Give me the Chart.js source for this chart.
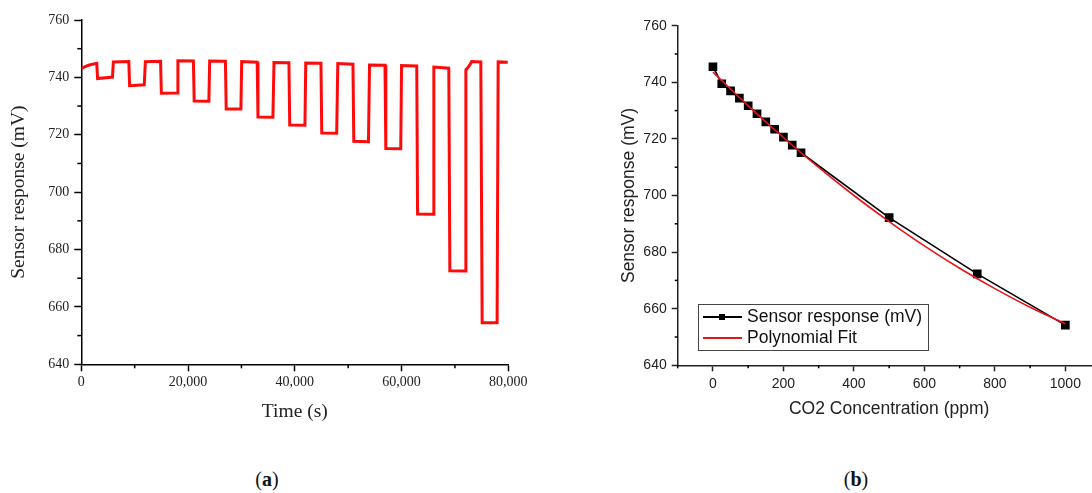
<!DOCTYPE html>
<html>
<head>
<meta charset="utf-8">
<script src="https://cdn.jsdelivr.net/npm/chart.js@4.4.1/dist/chart.umd.min.js"></script>
<style>
  html, body { margin: 0; padding: 0; background: #fff; width: 1092px; height: 493px; overflow: hidden; }
  #wrap { position: relative; width: 1092px; height: 493px; }
  canvas { position: absolute; top: 0; }
  .cap { position: absolute; top: 468px; width: 60px; text-align: center; font: 20px 'Liberation Serif', serif; color: #111; }
  #legend { position: absolute; left: 698px; top: 304px; width: 229px; height: 45px; border: 1px solid #444;
            font: 17.5px 'Liberation Sans', sans-serif; color: #111; }
  .row { position: absolute; left: 0; height: 21px; line-height: 21px; }
  .sample { position: absolute; left: 4px; width: 39px; height: 1.5px; }
  .txt { position: absolute; left: 48px; white-space: nowrap; }
</style>
</head>
<body>
<div id="wrap">
  <canvas id="chartA" width="540" height="440" style="left:0"></canvas>
  <canvas id="chartB" width="600" height="440" style="left:540px"></canvas>
  <div id="legend">
    <div class="row" style="top:1px">
      <div class="sample" style="top:10px;background:#000"></div>
      <div style="position:absolute;left:20px;top:8px;width:6px;height:6px;background:#000"></div>
      <div class="txt">Sensor response (mV)</div>
    </div>
    <div class="row" style="top:22px">
      <div class="sample" style="top:10px;background:#e8141a"></div>
      <div class="txt">Polynomial Fit</div>
    </div>
  </div>
  <div class="cap" style="left:237px">(<b>a</b>)</div>
  <div class="cap" style="left:826px">(<b>b</b>)</div>
</div>
<script>
// (a) sensor response over time, breakpoints
const timeS = [0, 600, 1500, 2900, 3050, 5850, 6000, 8900, 9050, 11800, 12000, 14850, 15000, 17950,
  18100, 21000, 21150, 23900, 24050, 27000, 27150, 29900, 30050, 32950, 33100, 35900, 36100, 38900,
  39050, 41900, 42050, 44900, 45050, 47850, 48050, 50900, 51050, 53800, 54000, 56900, 57050, 59850,
  60000, 62850, 63000, 65900, 66050, 68850, 69050, 71900, 72050, 72600, 73150, 74850, 75100, 77900,
  78100, 79900];
const responseMv = [743.0, 743.7, 744.3, 744.9, 739.6, 740.1, 745.4, 745.5, 737.1, 737.4, 745.5, 745.6, 734.5, 734.6,
  745.8, 745.7, 731.8, 731.7, 745.7, 745.6, 729.0, 729.0, 745.5, 745.3, 726.2, 726.1, 745.2, 745.1,
  723.4, 723.3, 745.0, 744.9, 720.6, 720.5, 744.8, 744.6, 717.7, 717.6, 744.3, 744.2, 715.2, 715.1,
  744.1, 744.0, 692.4, 692.3, 743.6, 743.2, 672.6, 672.5, 742.6, 743.8, 745.5, 745.4, 654.5, 654.5,
  745.4, 745.3];

// (b) calibration points and polynomial fit
const co2Ppm = [0, 25, 50, 75, 100, 125, 150, 175, 200, 225, 250, 500, 750, 1000];
const sensorMv = [745.5, 739.5, 737.0, 734.4, 731.7, 728.9, 726.0, 723.4, 720.6, 717.8, 715.1, 692.2, 672.3, 654.2];
const fitPpm = [0, 100, 200, 300, 400, 500, 600, 700, 800, 900, 1000];
const fitMv = [743.6, 731.7, 720.5, 709.9, 700.0, 690.8, 682.2, 674.3, 667.1, 660.5, 654.7];

const yTicks = { min: 640, max: 760, step: 10, major: 20 };

// short ticks between labelled ones
const minorTicks = {
  id: 'minorTicks',
  afterDraw(chart, args, opts) {
    const ctx = chart.ctx;
    ctx.save();
    ctx.strokeStyle = '#000';
    ctx.lineWidth = 1.5;
    ['x', 'y'].forEach(id => {
      const s = chart.scales[id];
      s.ticks.forEach(t => {
        if (t.value % opts[id] === 0) return;
        const p = s.getPixelForValue(t.value);
        ctx.beginPath();
        if (id === 'x') { ctx.moveTo(p, s.top); ctx.lineTo(p, s.top + opts.len); }
        else { ctx.moveTo(s.right, p); ctx.lineTo(s.right - opts.len, p); }
        ctx.stroke();
      });
    });
    ctx.restore();
  }
};

const serif = 'Liberation Serif';
const sans = 'Liberation Sans';

new Chart(document.getElementById('chartA').getContext('2d'), {
  type: 'scatter',
  data: {
    datasets: [{
      data: timeS.map((t, i) => ({ x: t, y: responseMv[i] })),
      showLine: true,
      borderColor: '#ff0a0a',
      borderWidth: 3,
      pointRadius: 0,
      tension: 0
    }]
  },
  options: {
    responsive: false,
    animation: false,
    layout: { padding: { left: 0, top: 20, right: 31.7, bottom: 16.6 } },
    plugins: {
      legend: { display: false },
      tooltip: { enabled: false },
      minorTicks: { x: 20000, y: 20, len: 4 }
    },
    scales: {
      x: {
        type: 'linear', min: 0, max: 80000,
        afterFit: s => { s.height = 59.1; },
        border: { color: '#000', width: 1.5 },
        grid: { drawOnChartArea: false, tickLength: 7, tickWidth: 1.5,
                tickColor: c => (c.tick && c.tick.value % 20000 === 0 ? '#000' : 'rgba(0,0,0,0)') },
        ticks: { stepSize: 10000, autoSkip: false, maxRotation: 0, padding: 3, color: '#222',
                 font: { family: serif, size: 14 },
                 callback: v => (v % 20000 === 0 ? v.toLocaleString('en-US') : '') },
        title: { display: true, text: 'Time (s)', color: '#222', padding: { top: 0, bottom: 0 },
                 font: { family: serif, size: 19.5 } }
      },
      y: {
        min: yTicks.min, max: yTicks.max,
        afterFit: s => { s.width = 81.3; },
        border: { color: '#000', width: 1.5 },
        grid: { drawOnChartArea: false, tickLength: 7, tickWidth: 1.5,
                tickColor: c => (c.tick && c.tick.value % yTicks.major === 0 ? '#000' : 'rgba(0,0,0,0)') },
        ticks: { stepSize: yTicks.step, autoSkip: false, padding: 5, color: '#222',
                 font: { family: serif, size: 14 },
                 callback: v => (v % yTicks.major === 0 ? v : '') },
        title: { display: true, text: 'Sensor response (mV)', color: '#222', padding: { top: 7.6, bottom: 0 },
                 font: { family: serif, size: 19.5 } }
      }
    }
  },
  plugins: [minorTicks]
});

new Chart(document.getElementById('chartB').getContext('2d'), {
  type: 'scatter',
  data: {
    datasets: [
      {
        label: 'Polynomial Fit',
        data: fitPpm.map((x, i) => ({ x: x, y: fitMv[i] })),
        showLine: true,
        borderColor: '#e8141a',
        borderWidth: 1.6,
        pointRadius: 0,
        tension: 0.4,
        order: 0
      },
      {
        label: 'Sensor response (mV)',
        data: co2Ppm.map((x, i) => ({ x: x, y: sensorMv[i] })),
        showLine: true,
        borderColor: '#000',
        backgroundColor: '#000',
        borderWidth: 1.6,
        pointStyle: 'rect',
        pointRadius: 5,
        tension: 0,
        order: 1
      }
    ]
  },
  options: {
    responsive: false,
    animation: false,
    layout: { padding: { left: 0, top: 25.7, right: 39.4, bottom: 20.2 } },
    plugins: {
      legend: { display: false },
      tooltip: { enabled: false },
      minorTicks: { x: 200, y: 20, len: 3 }
    },
    scales: {
      x: {
        type: 'linear', min: -100, max: 1100,
        afterFit: s => { s.height = 54.5; },
        border: { color: '#222', width: 1.5 },
        grid: { drawOnChartArea: false, tickLength: 6, tickWidth: 1.5,
                tickColor: c => (c.tick && c.tick.value % 200 === 0 ? '#222' : 'rgba(0,0,0,0)') },
        ticks: { stepSize: 100, autoSkip: false, maxRotation: 0, padding: 4.3, color: '#222',
                 font: { family: sans, size: 14 },
                 callback: v => (v % 200 === 0 && v >= 0 && v <= 1000 ? v : '') },
        title: { display: true, text: 'CO2 Concentration (ppm)', color: '#222', padding: { top: 0, bottom: 0 },
                 font: { family: sans, size: 17.5 } }
      },
      y: {
        min: yTicks.min, max: yTicks.max,
        afterFit: s => { s.width = 137.7; },
        border: { color: '#222', width: 1.5 },
        grid: { drawOnChartArea: false, tickLength: 6, tickWidth: 1.5,
                tickColor: c => (c.tick && c.tick.value % yTicks.major === 0 ? '#222' : 'rgba(0,0,0,0)') },
        ticks: { stepSize: yTicks.step, autoSkip: false, padding: 5, color: '#222',
                 font: { family: sans, size: 14 },
                 callback: v => (v % yTicks.major === 0 ? v : '') },
        title: { display: true, text: 'Sensor response (mV)', color: '#222', padding: { top: 78.2, bottom: 0 },
                 font: { family: sans, size: 17.5 } }
      }
    }
  },
  plugins: [minorTicks]
});
</script>
</body>
</html>
